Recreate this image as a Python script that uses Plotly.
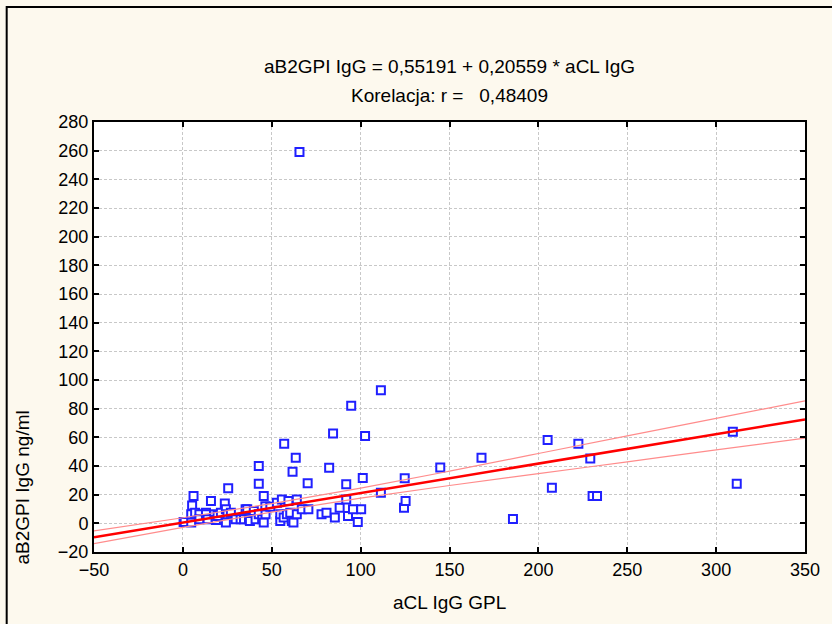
import plotly.graph_objects as go

# punkty pomiarowe (aCL IgG GPL, aB2GPI IgG ng/ml)
acl = [0.4, 1.0, 4.7, 4.7, 5.2, 6.0, 6.9, 9.3, 9.3, 13.0, 13.0, 13.9, 15.8, 17.7,
       18.6, 19.5, 21.4, 23.6, 24.2, 24.2, 25.5, 25.1, 27.0, 29.7, 32.5, 34.4,
       35.3, 37.2, 36.2, 37.7, 39.9, 40.9, 42.7, 42.7, 42.7, 44.6, 45.5, 45.5,
       46.5, 46.4, 49.2,
       52.9, 54.8, 54.8, 55.7, 56.7, 57.0, 58.5, 59.4, 60.4, 61.3, 61.7, 62.2,
       63.5, 64.1, 64.1, 65.6, 66.9, 70.2, 70.6, 78.0, 80.8, 82.3, 84.5, 85.5,
       88.2, 91.9, 91.9, 92.9, 94.7, 95.7, 98.4, 100.3, 101.2, 102.5, 111.4,
       111.4,
       124.4, 125.3, 124.8, 144.8, 168.0, 185.7, 205.2, 207.6, 222.5, 229.2,
       230.5, 233.0, 309.4, 311.6]
b2gpi = [0.9, 1.0, 0.5, 6.3, 12.5, 19.0, 7.4, 6.3, 2.8, 7.4, 6.3, 2.8, 15.5, 6.3,
         2.4, 5.1, 7.4, 13.9, 9.8, 0.5, 24.4, 6.3, 7.4, 2.8, 2.8, 2.8,
         9.8, 2.8, 9.8, 1.6, 8.6, 2.8, 40.0, 27.6, 6.3, 2.8, 19.0, 0.5,
         6.3, 12.0, 11.6,
         14.4, 1.6, 6.3, 16.7, 4.0, 55.5, 6.3, 15.5, 7.4, 1.6, 36.0, 0.5,
         45.8, 16.7, 6.3, 259.0, 9.8, 27.9, 9.8, 6.3, 7.4, 38.8, 62.7, 4.0,
         10.9, 27.2, 16.7, 5.1, 82.0, 9.8, 0.9, 9.8, 31.6, 61.0, 92.9,
         21.4,
         10.9, 15.5, 31.4, 39.0, 45.8, 3.0, 58.1, 24.9, 55.5, 45.3,
         19.0, 19.0, 63.9, 27.6]

# linia regresji i przedzial ufnosci 0,95 (odczyt z wykresu)
fit_x = [-50, 350]
fit_y = [-9.73, 72.51]
band_x = [-50, 0, 50, 100, 150, 200, 250, 300, 350]
band_hi = [-5.2, 3.9, 13.8, 24.6, 36.4, 48.7, 61.0, 73.2, 85.5]
band_lo = [-14.2, -2.8, 7.8, 17.6, 26.4, 34.7, 42.9, 51.2, 59.5]

title_1 = "aB2GPI IgG = 0,55191 + 0,20559 * aCL IgG"
title_2 = "Korelacja: r =\u00a0\u00a0\u00a00,48409"
x_title = "aCL IgG GPL"
y_title = "aB2GPI IgG ng/ml"

FONT = "Liberation Sans, Arial, sans-serif"

fig = go.Figure()

fig.add_trace(go.Scatter(x=acl, y=b2gpi, mode="markers",
                         marker=dict(symbol="square", size=8, color="white",
                                     line=dict(color="#2020ff", width=2)),
                         showlegend=False))

for yy in (band_hi, band_lo):
    fig.add_trace(go.Scatter(x=band_x, y=yy, mode="lines",
                             line=dict(color="#ff8c8c", width=1.2, shape="spline"),
                             showlegend=False))
fig.add_trace(go.Scatter(x=fit_x, y=fit_y, mode="lines",
                         line=dict(color="#ff0000", width=2.5),
                         showlegend=False))

axis_style = dict(showline=True, linecolor="black", linewidth=2, mirror="ticks",
                  ticks="inside", ticklen=5, tickwidth=1.5, tickcolor="black",
                  showgrid=True, gridcolor="#c8c8c8", griddash="3px,2px", gridwidth=1,
                  zeroline=False, tickfont=dict(family=FONT, size=18, color="black"))

fig.update_xaxes(range=[-50, 350], dtick=50, tick0=0, **axis_style)
fig.update_yaxes(range=[-20, 280], dtick=20, tick0=0, **axis_style)

fig.update_layout(
    width=832, height=624,
    margin=dict(l=94, r=21, t=122, b=72),
    paper_bgcolor="#fdf9ee", plot_bgcolor="white",
    font=dict(family=FONT, color="black"),
    shapes=[dict(type="rect", xref="paper", yref="paper",
                 x0=-0.1228, x1=1.05, y0=-0.2, y1=1.2674,
                 line=dict(color="black", width=2))],
    annotations=[
        dict(text=title_1, xref="paper", yref="paper", x=0.5, y=1.129,
             showarrow=False, font=dict(size=19), yanchor="middle"),
        dict(text=title_2, xref="paper", yref="paper", x=0.5, y=1.0616,
             showarrow=False, font=dict(size=19), yanchor="middle"),
        dict(text=x_title, xref="paper", yref="paper", x=0.5, y=-0.1185,
             showarrow=False, font=dict(size=19), yanchor="middle"),
        dict(text=y_title, xref="paper", yref="paper", x=-0.1005, y=0.149,
             showarrow=False, font=dict(size=19), textangle=-90,
             xanchor="center", yanchor="middle"),
    ],
)

# bez marginesu strony, zeby wykres zaczynal sie w rogu okna
fig.write_html("out.html", config={"displayModeBar": False},
               post_script="document.body.style.margin='0';"
                           "document.body.style.overflow='hidden';")
